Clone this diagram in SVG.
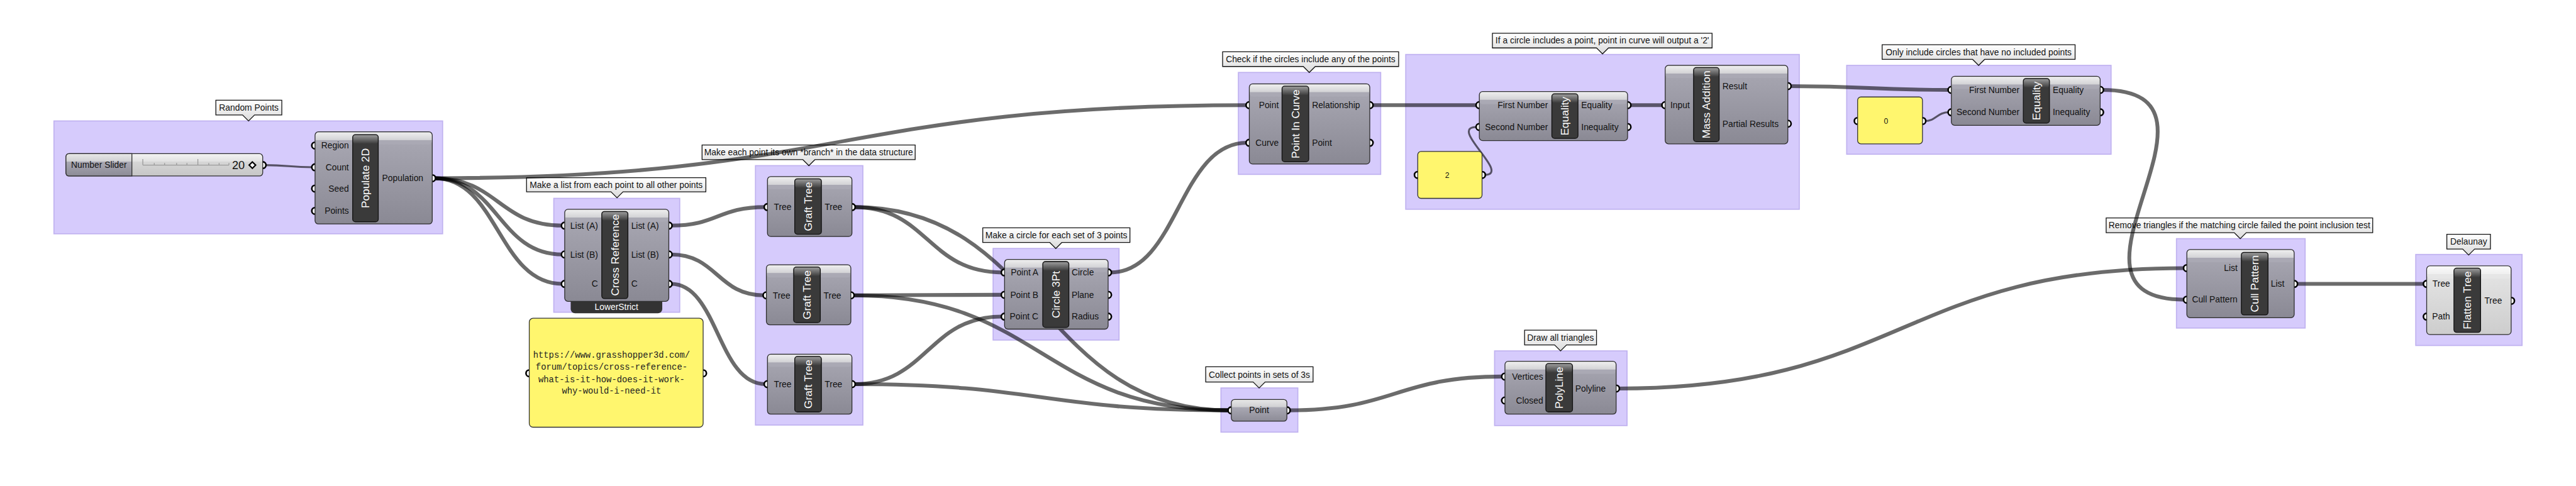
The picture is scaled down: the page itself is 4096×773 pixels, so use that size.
<svg xmlns="http://www.w3.org/2000/svg" width="4096" height="773" viewBox="0 0 4096 773">
<defs>
<linearGradient id="bd" x1="0" y1="0" x2="0" y2="1"><stop offset="0" stop-color="#aaa9b4"/><stop offset="1" stop-color="#8a8994"/></linearGradient>
<linearGradient id="st" x1="0" y1="0" x2="0" y2="1"><stop offset="0" stop-color="#eeeeee"/><stop offset=".62" stop-color="#d3d3d6"/><stop offset=".66" stop-color="#aaa9b4"/><stop offset="1" stop-color="#aaa9b4"/></linearGradient>
<linearGradient id="bdl" x1="0" y1="0" x2="0" y2="1"><stop offset="0" stop-color="#e6e6e6"/><stop offset="1" stop-color="#cdcdcd"/></linearGradient>
<linearGradient id="stl" x1="0" y1="0" x2="0" y2="1"><stop offset="0" stop-color="#fafafa"/><stop offset=".62" stop-color="#efefef"/><stop offset=".66" stop-color="#e6e6e6"/><stop offset="1" stop-color="#e6e6e6"/></linearGradient>
<linearGradient id="sll" x1="0" y1="0" x2="0" y2="1"><stop offset="0" stop-color="#e8e8e8"/><stop offset=".34" stop-color="#d0d0d3"/><stop offset=".37" stop-color="#a9a8b3"/><stop offset="1" stop-color="#8c8b96"/></linearGradient>
<linearGradient id="slr" x1="0" y1="0" x2="0" y2="1"><stop offset="0" stop-color="#f4f4f4"/><stop offset=".34" stop-color="#e2e2e2"/><stop offset=".37" stop-color="#d6d6d6"/><stop offset="1" stop-color="#c6c6c6"/></linearGradient>
<linearGradient id="bt" x1="0" y1="0" x2="0" y2="1"><stop offset="0" stop-color="#9a9a9a"/><stop offset="1" stop-color="#3a3a3a"/></linearGradient>
<linearGradient id="cog" x1="0" y1="0" x2="0" y2="1"><stop offset="0" stop-color="#ffffff"/><stop offset="1" stop-color="#dadada"/></linearGradient>
</defs>
<style>
.grp{fill:#d6cbfc;stroke:#c0b2f0;stroke-width:2}
.co{fill:url(#cog);stroke:#111;stroke-width:1.5}
.ct{font-family:'Liberation Sans',Arial,sans-serif;font-size:16px;fill:#111;text-anchor:middle}
.w{fill:none;stroke:#000;stroke-opacity:.58;stroke-width:7}
.wt{fill:none;stroke:#000;stroke-opacity:.6;stroke-width:3.5}
.body{fill:url(#bd);stroke:#2e2e2e;stroke-width:1.5}
.bodyl{fill:url(#bdl);stroke:#2e2e2e;stroke-width:1.5}
.strip{fill:url(#st)}
.stripl{fill:url(#stl)}
.bar{fill:#3a3a3a;stroke:#111;stroke-width:1.5}
.bartop{fill:url(#bt)}
.port{fill:#fff;stroke:#000;stroke-width:3}
.lb{font-family:'Liberation Sans',Arial,sans-serif;font-size:16px;fill:#111}
.r{text-anchor:end}
.c{text-anchor:middle}
.bt{font-family:'Liberation Sans',Arial,sans-serif;font-size:20px;fill:#fff;text-anchor:middle}
.pan{fill:#fff66e;stroke:#333;stroke-width:1.5}
.mono{font-family:'Liberation Mono','Courier New',monospace;font-size:16px;fill:#222;text-anchor:middle}
</style>
<rect width="4096" height="773" fill="#fff"/>
<g transform="scale(0.8667)">
<g id="groups">
<rect class="grp" x="99" y="222" width="713" height="207"/>
<rect class="grp" x="1016" y="364" width="231" height="209"/>
<rect class="grp" x="1386" y="304" width="197" height="476"/>
<rect class="grp" x="1822" y="456" width="231" height="168"/>
<rect class="grp" x="2272" y="133" width="261" height="187"/>
<rect class="grp" x="2579" y="100" width="722" height="284"/>
<rect class="grp" x="3388" y="120" width="485" height="163"/>
<rect class="grp" x="2240" y="712" width="141" height="81"/>
<rect class="grp" x="2742" y="644" width="243" height="137"/>
<rect class="grp" x="3993" y="438" width="236" height="164"/>
<rect class="grp" x="4432" y="467" width="195" height="167"/>
</g>
<g id="callouts">
<path class="co" d="M396,184H517V211H467L456,222L445,211H396Z"/><text class="ct" x="456.5" y="203">Random Points</text>
<path class="co" d="M966,326H1295V352H1143L1132,363L1121,352H966Z"/><text class="ct" x="1130.5" y="345">Make a list from each point to all other points</text>
<path class="co" d="M1288,266H1679V293H1495L1484,304L1473,293H1288Z"/><text class="ct" x="1483.5" y="285">Make each point its own *branch* in the data structure</text>
<path class="co" d="M1803,418H2073V445H1948L1937,456L1926,445H1803Z"/><text class="ct" x="1938" y="437">Make a circle for each set of 3 points</text>
<path class="co" d="M2243,95H2566V122H2413L2402,133L2391,122H2243Z"/><text class="ct" x="2404.5" y="114">Check if the circles include any of the points</text>
<path class="co" d="M2738,61H3141V88H2951L2940,99L2929,88H2738Z"/><text class="ct" x="2939.5" y="80">If a circle includes a point, point in curve will output a '2'</text>
<path class="co" d="M3453,82H3807V109H3641L3630,120L3619,109H3453Z"/><text class="ct" x="3630" y="101">Only include circles that have no included points</text>
<path class="co" d="M2212,673H2409V701H2321L2310,712L2299,701H2212Z"/><text class="ct" x="2310.5" y="693">Collect points in sets of 3s</text>
<path class="co" d="M2797,606H2929V633H2874L2863,644L2852,633H2797Z"/><text class="ct" x="2863" y="625">Draw all triangles</text>
<path class="co" d="M3864,400H4353V427H4121L4110,438L4099,427H3864Z"/><text class="ct" x="4108.5" y="419">Remove triangles if the matching circle failed the point inclusion test</text>
<path class="co" d="M4489,430H4569V457H4540L4529,468L4518,457H4489Z"/><text class="ct" x="4529" y="449">Delaunay</text>
</g>
<g id="connectors">
<path class="wt" d="M486,303 C530,303 530,307 574,307"/>
<path class="wt" d="M2723,321 C2775,321 2655,233 2709,233"/>
<path class="wt" d="M3531,222 C3553,222 3553,206 3576,206"/>
<path class="w" d="M797,327 C914,327 914,414 1032,414"/>
<path class="w" d="M797,327 C914,327 914,467 1032,467"/>
<path class="w" d="M797,327 C914,327 914,521 1032,521"/>
<path class="w" d="M797,327 C1542,327 1542,193 2288,193"/>
<path class="w" d="M1231,414 C1317,414 1317,380 1404,380"/>
<path class="w" d="M1231,467 C1316,467 1316,542 1402,542"/>
<path class="w" d="M1231,521 C1317,521 1317,705 1404,705"/>
<path class="w" d="M1567,380 C1702,380 1702,500 1839,500"/>
<path class="w" d="M1567,380 C1910,380 1910,753 2255,753"/>
<path class="w" d="M1565,542 C1701,542 1701,541 1839,541"/>
<path class="w" d="M1565,542 C1910,542 1910,753 2255,753"/>
<path class="w" d="M1567,705 C1702,705 1702,581 1839,581"/>
<path class="w" d="M1567,705 C1910,705 1910,753 2255,753"/>
<path class="w" d="M2037,500 C2162,500 2162,262 2288,262"/>
<path class="w" d="M2517,193 C2612,193 2612,193 2710,193"/>
<path class="w" d="M2990,193 C3020,193 3020,193 3051,193"/>
<path class="w" d="M3284,158 C3430,158 3430,165 3576,165"/>
<path class="w" d="M3857,165 C4130,165 3735,550 4008,550"/>
<path class="w" d="M2969,713 C3489,713 3489,492 4008,492"/>
<path class="w" d="M4213,521 C4330,521 4330,521 4448,521"/>
<path class="w" d="M2365,753 C2560,753 2560,691 2757,691"/>
</g>
<g id="n-slider">
<circle class="port" cx="482" cy="303" r="6"/>
<rect x="121" y="282" width="361" height="41" rx="6" fill="url(#slr)" stroke="#2e2e2e" stroke-width="1.5"/>
<path d="M127,282H242V323H127Q121,323 121,317V288Q121,282 127,282Z" fill="url(#sll)" stroke="#2e2e2e" stroke-width="1.5"/>
<path d="M262,303H420M262,303V292M283,303V299M302,303V299M324,303V299M343,303V299M363,303V292M383,303V299M402,303V299M420,303V299" stroke="#9a9a9a" stroke-width="1.5" fill="none"/>
<text class="lb c" x="181.5" y="308.5">Number Slider</text>
<text class="lb r" x="449" y="310.5" style="font-size:21px">20</text>
<polygon points="463,297 469,303 463,309 457,303" fill="#fff" stroke="#000" stroke-width="2.5"/>
</g>
<g id="n-populate">
<circle class="port" cx="578" cy="267" r="6"/><circle class="port" cx="578" cy="307" r="6"/><circle class="port" cx="578" cy="346" r="6"/><circle class="port" cx="578" cy="387" r="6"/><circle class="port" cx="793" cy="327" r="6"/>
<rect class="body" x="578" y="242" width="215" height="169" rx="6"/>
<rect class="strip" x="579" y="243" width="213" height="22" rx="5"/>
<rect class="bar" x="647" y="247" width="47" height="160" rx="5"/>
<rect class="bartop" x="648" y="248" width="45" height="16" rx="4"/>
<text class="bt" transform="translate(677.5 327) rotate(-90)">Populate 2D</text>
<text class="lb r" x="640" y="272.5">Region</text>
<text class="lb r" x="640" y="312.5">Count</text>
<text class="lb r" x="640" y="351.5">Seed</text>
<text class="lb r" x="640" y="392.5">Points</text>
<text class="lb" x="701" y="332.5">Population</text>
</g>
<g id="n-crossref">
<rect x="1047" y="540" width="168" height="35" rx="8" fill="#333"/>
<text class="lb c" x="1131" y="569" style="fill:#fff">LowerStrict</text>
<circle class="port" cx="1036" cy="414" r="6"/><circle class="port" cx="1036" cy="467" r="6"/><circle class="port" cx="1036" cy="521" r="6"/>
<circle class="port" cx="1227" cy="414" r="6"/><circle class="port" cx="1227" cy="467" r="6"/><circle class="port" cx="1227" cy="521" r="6"/>
<rect class="body" x="1036" y="384" width="191" height="169" rx="6"/>
<rect class="strip" x="1037" y="385" width="189" height="22" rx="5"/>
<rect class="bar" x="1104" y="388" width="48" height="160" rx="5"/>
<rect class="bartop" x="1105" y="389" width="46" height="16" rx="4"/>
<text class="bt" transform="translate(1135 468) rotate(-90)">Cross Reference</text>
<text class="lb r" x="1097" y="419.5">List (A)</text>
<text class="lb r" x="1097" y="472.5">List (B)</text>
<text class="lb r" x="1097" y="526.5">C</text>
<text class="lb" x="1158" y="419.5">List (A)</text>
<text class="lb" x="1158" y="472.5">List (B)</text>
<text class="lb" x="1158" y="526.5">C</text>
</g>
<g id="n-url">
<circle class="port" cx="971" cy="685" r="6"/><circle class="port" cx="1290" cy="685" r="6"/>
<rect class="pan" x="971" y="584" width="319" height="200" rx="7"/>
<text class="mono" x="1122" y="657">https://www.grasshopper3d.com/</text>
<text class="mono" x="1122" y="679">forum/topics/cross-reference-</text>
<text class="mono" x="1122" y="701">what-is-it-how-does-it-work-</text>
<text class="mono" x="1122" y="722">why-would-i-need-it</text>
</g>
<g id="n-graft1">
<circle class="port" cx="1408" cy="380" r="6"/><circle class="port" cx="1563" cy="380" r="6"/>
<rect class="body" x="1408" y="324" width="155" height="110" rx="6"/>
<rect class="strip" x="1409" y="325" width="153" height="22" rx="5"/>
<rect class="bar" x="1458" y="328" width="49" height="102" rx="5"/>
<rect class="bartop" x="1459" y="329" width="47" height="16" rx="4"/>
<text class="bt" transform="translate(1489.5 379) rotate(-90)">Graft Tree</text>
<text class="lb r" x="1452" y="385.5">Tree</text>
<text class="lb" x="1513" y="385.5">Tree</text>
</g>
<g id="n-graft2">
<circle class="port" cx="1406" cy="542" r="6"/><circle class="port" cx="1561" cy="542" r="6"/>
<rect class="body" x="1406" y="486" width="155" height="110" rx="6"/>
<rect class="strip" x="1407" y="487" width="153" height="22" rx="5"/>
<rect class="bar" x="1456" y="490" width="49" height="102" rx="5"/>
<rect class="bartop" x="1457" y="491" width="47" height="16" rx="4"/>
<text class="bt" transform="translate(1487.5 541) rotate(-90)">Graft Tree</text>
<text class="lb r" x="1450" y="547.5">Tree</text>
<text class="lb" x="1511" y="547.5">Tree</text>
</g>
<g id="n-graft3">
<circle class="port" cx="1408" cy="705" r="6"/><circle class="port" cx="1563" cy="705" r="6"/>
<rect class="body" x="1408" y="650" width="155" height="110" rx="6"/>
<rect class="strip" x="1409" y="651" width="153" height="22" rx="5"/>
<rect class="bar" x="1458" y="654" width="49" height="102" rx="5"/>
<rect class="bartop" x="1459" y="655" width="47" height="16" rx="4"/>
<text class="bt" transform="translate(1489.5 705) rotate(-90)">Graft Tree</text>
<text class="lb r" x="1452" y="710.5">Tree</text>
<text class="lb" x="1513" y="710.5">Tree</text>
</g>
<g id="n-circle3pt">
<circle class="port" cx="1843" cy="500" r="6"/><circle class="port" cx="1843" cy="541" r="6"/><circle class="port" cx="1843" cy="581" r="6"/>
<circle class="port" cx="2033" cy="500" r="6"/><circle class="port" cx="2033" cy="541" r="6"/><circle class="port" cx="2033" cy="581" r="6"/>
<rect class="body" x="1843" y="476" width="190" height="128" rx="6"/>
<rect class="strip" x="1844" y="477" width="188" height="22" rx="5"/>
<rect class="bar" x="1913" y="480" width="48" height="121" rx="5"/>
<rect class="bartop" x="1914" y="481" width="46" height="16" rx="4"/>
<text class="bt" transform="translate(1944 540.5) rotate(-90)">Circle 3Pt</text>
<text class="lb r" x="1905" y="505.5">Point A</text>
<text class="lb r" x="1905" y="546.5">Point B</text>
<text class="lb r" x="1905" y="586.5">Point C</text>
<text class="lb" x="1966" y="505.5">Circle</text>
<text class="lb" x="1966" y="546.5">Plane</text>
<text class="lb" x="1966" y="586.5">Radius</text>
</g>
<g id="n-pointincurve">
<circle class="port" cx="2292" cy="193" r="6"/><circle class="port" cx="2292" cy="262" r="6"/>
<circle class="port" cx="2513" cy="193" r="6"/><circle class="port" cx="2513" cy="262" r="6"/>
<rect class="body" x="2292" y="154" width="221" height="147" rx="6"/>
<rect class="strip" x="2293" y="155" width="219" height="22" rx="5"/>
<rect class="bar" x="2352" y="158" width="49" height="139" rx="5"/>
<rect class="bartop" x="2353" y="159" width="47" height="16" rx="4"/>
<text class="bt" transform="translate(2383.5 227.5) rotate(-90)">Point In Curve</text>
<text class="lb r" x="2346" y="198.5">Point</text>
<text class="lb r" x="2346" y="267.5">Curve</text>
<text class="lb" x="2407" y="198.5">Relationship</text>
<text class="lb" x="2407" y="267.5">Point</text>
</g>
<g id="n-equality1">
<circle class="port" cx="2714" cy="193" r="6"/><circle class="port" cx="2714" cy="233" r="6"/>
<circle class="port" cx="2986" cy="193" r="6"/><circle class="port" cx="2986" cy="233" r="6"/>
<rect class="body" x="2714" y="168" width="272" height="90" rx="6"/>
<rect class="strip" x="2715" y="169" width="270" height="22" rx="5"/>
<rect class="bar" x="2847" y="172" width="48" height="82" rx="5"/>
<rect class="bartop" x="2848" y="173" width="46" height="16" rx="4"/>
<text class="bt" transform="translate(2878 213) rotate(-90)">Equality</text>
<text class="lb r" x="2840" y="198.5">First Number</text>
<text class="lb r" x="2840" y="238.5">Second Number</text>
<text class="lb" x="2901" y="198.5">Equality</text>
<text class="lb" x="2901" y="238.5">Inequality</text>
</g>
<g id="n-panel2">
<circle class="port" cx="2601" cy="321" r="6"/><circle class="port" cx="2719" cy="321" r="6"/>
<rect class="pan" x="2601" y="278" width="118" height="86" rx="6"/>
<text class="lb c" x="2655" y="326" style="font-size:14px">2</text>
</g>
<g id="n-massaddition">
<circle class="port" cx="3055" cy="193" r="6"/>
<circle class="port" cx="3280" cy="158" r="6"/><circle class="port" cx="3280" cy="227" r="6"/>
<rect class="body" x="3055" y="120" width="225" height="144" rx="6"/>
<rect class="strip" x="3056" y="121" width="223" height="22" rx="5"/>
<rect class="bar" x="3107" y="124" width="47" height="136" rx="5"/>
<rect class="bartop" x="3108" y="125" width="45" height="16" rx="4"/>
<text class="bt" transform="translate(3137.5 192) rotate(-90)">Mass Addition</text>
<text class="lb r" x="3100" y="198.5">Input</text>
<text class="lb" x="3160" y="163.5">Result</text>
<text class="lb" x="3160" y="232.5">Partial Results</text>
</g>
<g id="n-panel0">
<circle class="port" cx="3408" cy="222" r="6"/><circle class="port" cx="3527" cy="222" r="6"/>
<rect class="pan" x="3408" y="178" width="119" height="86" rx="6"/>
<text class="lb c" x="3460" y="227" style="font-size:14px">0</text>
</g>
<g id="n-equality2">
<circle class="port" cx="3580" cy="165" r="6"/><circle class="port" cx="3580" cy="206" r="6"/>
<circle class="port" cx="3853" cy="165" r="6"/><circle class="port" cx="3853" cy="206" r="6"/>
<rect class="body" x="3580" y="140" width="273" height="90" rx="6"/>
<rect class="strip" x="3581" y="141" width="271" height="22" rx="5"/>
<rect class="bar" x="3712" y="144" width="48" height="82" rx="5"/>
<rect class="bartop" x="3713" y="145" width="46" height="16" rx="4"/>
<text class="bt" transform="translate(3743 185) rotate(-90)">Equality</text>
<text class="lb r" x="3705" y="170.5">First Number</text>
<text class="lb r" x="3705" y="211.5">Second Number</text>
<text class="lb" x="3766" y="170.5">Equality</text>
<text class="lb" x="3766" y="211.5">Inequality</text>
</g>
<g id="n-point">
<circle class="port" cx="2259" cy="753" r="6"/><circle class="port" cx="2361" cy="753" r="6"/>
<rect x="2259" y="733" width="102" height="40" rx="6" fill="url(#sll)" stroke="#2e2e2e" stroke-width="1.5"/>
<text class="lb c" x="2310" y="758.5">Point</text>
</g>
<g id="n-polyline">
<circle class="port" cx="2761" cy="691" r="6"/><circle class="port" cx="2761" cy="735" r="6"/><circle class="port" cx="2965" cy="713" r="6"/>
<rect class="body" x="2761" y="663" width="204" height="97" rx="6"/>
<rect class="strip" x="2762" y="664" width="202" height="22" rx="5"/>
<rect class="bar" x="2836" y="667" width="49" height="89" rx="5"/>
<rect class="bartop" x="2837" y="668" width="47" height="16" rx="4"/>
<text class="bt" transform="translate(2867.5 711.5) rotate(-90)">PolyLine</text>
<text class="lb r" x="2831" y="696.5">Vertices</text>
<text class="lb r" x="2831" y="740.5">Closed</text>
<text class="lb" x="2890" y="718.5">Polyline</text>
</g>
<g id="n-cullpattern">
<circle class="port" cx="4012" cy="492" r="6"/><circle class="port" cx="4012" cy="550" r="6"/><circle class="port" cx="4209" cy="521" r="6"/>
<rect class="body" x="4012" y="458" width="197" height="125" rx="6"/>
<rect class="strip" x="4013" y="459" width="195" height="22" rx="5"/>
<rect class="bar" x="4112" y="463" width="49" height="115" rx="5"/>
<rect class="bartop" x="4113" y="464" width="47" height="16" rx="4"/>
<text class="bt" transform="translate(4143.5 520.5) rotate(-90)">Cull Pattern</text>
<text class="lb r" x="4105" y="497.5">List</text>
<text class="lb r" x="4105" y="555.5">Cull Pattern</text>
<text class="lb" x="4166" y="526.5">List</text>
</g>
<g id="n-flattentree">
<circle class="port" cx="4452" cy="521" r="6"/><circle class="port" cx="4452" cy="581" r="6"/><circle class="port" cx="4607" cy="552" r="6"/>
<rect class="bodyl" x="4452" y="488" width="155" height="126" rx="6"/>
<rect class="stripl" x="4453" y="489" width="153" height="22" rx="5"/>
<rect class="bar" x="4502" y="492" width="49" height="118" rx="5"/>
<rect class="bartop" x="4503" y="493" width="47" height="16" rx="4"/>
<text class="bt" transform="translate(4533.5 551) rotate(-90)">Flatten Tree</text>
<text class="lb r" x="4495" y="526.5">Tree</text>
<text class="lb r" x="4495" y="586.5">Path</text>
<text class="lb" x="4558" y="557.5">Tree</text>
</g>
</g>
</svg>
